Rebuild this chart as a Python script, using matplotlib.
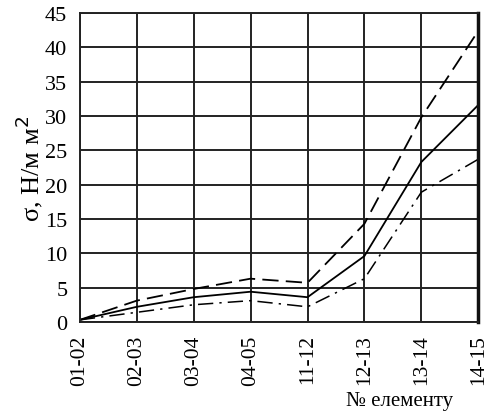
import numpy as np
import matplotlib.pyplot as plt

# елементи та напруження, Н/мм2
elements = ['01-02', '02-03', '03-04', '04-05', '11-12', '12-13', '13-14', '14-15']
sigma_dash = [0.3, 3.1, 4.8, 6.3, 5.7, 14.3, 29.8, 42.4]
sigma_solid = [0.3, 2.2, 3.6, 4.4, 3.6, 9.6, 23.3, 31.6]
sigma_dashdot = [0.3, 1.4, 2.5, 3.1, 2.2, 6.3, 18.9, 23.7]
yticks = [0, 5, 10, 15, 20, 25, 30, 35, 40, 45]

plt.rcParams['font.family'] = ['Liberation Serif', 'DejaVu Serif']

fig = plt.figure(figsize=(4.87, 4.14), dpi=100)
ax = fig.add_axes([0.164, 0.22, 0.818, 0.746])

x = np.arange(len(elements))
ax.plot(x, sigma_dash, color='black', lw=1.3, dashes=(9, 4))
ax.plot(x, sigma_solid, color='black', lw=1.3)
ax.plot(x, sigma_dashdot, color='black', lw=1.1, dashes=(10, 4, 1.5, 4))

ax.set_xlim(0, len(elements) - 1)
ax.set_ylim(0, 45)
ax.set_xticks(x)
ax.set_xticklabels(elements, rotation=90, fontsize=15.5)
ax.set_yticks(yticks)
ax.set_yticklabels([str(v) for v in yticks], fontsize=16)
ax.tick_params(axis='x', length=0, pad=9)
ax.tick_params(axis='y', length=0, pad=9)

ax.grid(True, color='#222222', lw=1.4)
for s in ['left', 'top', 'bottom']:
    ax.spines[s].set_linewidth(1.4)
    ax.spines[s].set_color('#222222')
ax.spines['right'].set_linewidth(2.5)
ax.spines['right'].set_color('#111111')

ax.set_ylabel('σ, Н/м м$^2$', fontsize=19, labelpad=0)
fig.text(0.82, 0.03, '№ елементу', fontsize=15, ha='center', va='center')

fig.savefig('out.png', dpi=100)
